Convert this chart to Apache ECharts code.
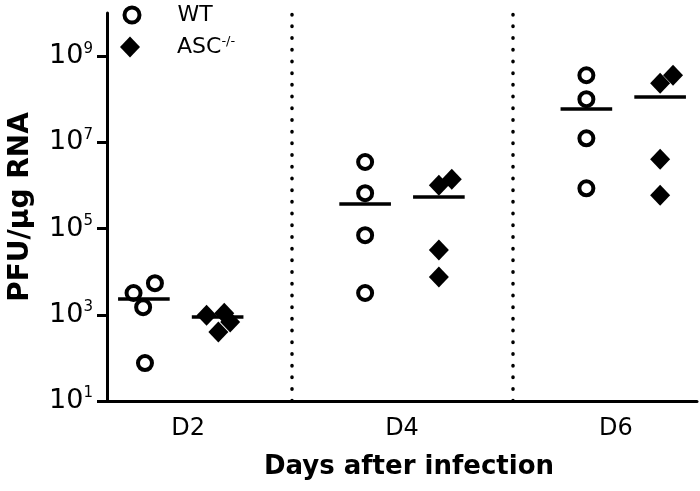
<!DOCTYPE html>
<html><head><meta charset="utf-8">
<script src="https://cdn.jsdelivr.net/npm/echarts@6/dist/echarts.min.js"></script>
<style>html,body{margin:0;padding:0;background:#fff}#c{width:700px;height:491px}</style>
</head><body><div id="c"></div>
<script>
// ---- data ----
const days = ['D2', 'D4', 'D6'];
const wtName = 'WT';
const ascName = 'ASC';
const wtValues = [[3200, 5400, 1500, 76], [3.5e6, 6.6e5, 7.0e4, 3.2e3], [3.6e8, 1.0e8, 1.24e7, 8.6e5]];
const wtDodge = [[-0.28, 0.3, -0.02, 0.03], [0, 0, 0, 0], [0, 0, 0, 0]];
const ascValues = [[980, 1090, 680, 400], [1.01e6, 1.4e6, 3.2e4, 7.5e3], [2.34e8, 3.6e8, 4.06e6, 5.9e5]];
const ascDodge = [[-0.3, 0.18, 0.34, 0.02], [0, 0.35, 0, 0], [0, 0.35, 0, 0]];
const wtMedian = [2300, 3.7e5, 5.9e7];
const ascMedian = [880, 5.4e5, 1.17e8];
const yTicks = [10, 1e3, 1e5, 1e7, 1e9];

// ---- layout (axis units) ----
const SLOT = 6, WT_POS = 1, ASC_POS = 3, HALF = 0.7;
const labelPos = [2.2, 8, 13.8];
const separators = [5, 11];
const FONT = 'DejaVu Sans';

function pts(vals, dodge, pos) {
  const out = [];
  vals.forEach((arr, d) => arr.forEach((v, i) => out.push([d * SLOT + pos + dodge[d][i], v])));
  return out;
}
function medLines(meds, pos) {
  return meds.map((m, d) => [{ coord: [d * SLOT + pos - HALF, m] }, { coord: [d * SLOT + pos + HALF, m] }]);
}
const medStyle = { symbol: ['none', 'none'], silent: true, label: { show: false }, lineStyle: { color: '#000', width: 3.5, type: 'solid' }, emphasis: { disabled: true } };
const legendText = (pad) => ({
  fontFamily: FONT, fontSize: 22, color: '#000', lineHeight: 24, padding: [0, 0, 0, pad],
  rich: { s: { fontFamily: FONT, fontSize: 13, color: '#000', verticalAlign: 'top', lineHeight: 12 } }
});

const chart = echarts.init(document.getElementById('c'), null, { renderer: 'canvas' });
chart.setOption({
  animation: false,
  backgroundColor: '#fff',
  grid: { left: 107, right: 3, top: 13, bottom: 90, outerBoundsMode: 'none' },
  legend: [
    {
      orient: 'vertical', left: 122.5, top: 3, padding: 0,
      itemWidth: 15, itemHeight: 15,
      data: [{ name: wtName, icon: 'circle', itemStyle: { color: '#fff', borderColor: '#000', borderWidth: 4 } }],
      textStyle: legendText(33)
    },
    {
      orient: 'vertical', left: 120, top: 35, padding: 0,
      itemWidth: 20, itemHeight: 21,
      data: [{ name: ascName, icon: 'diamond', itemStyle: { color: '#000', borderWidth: 0 } }],
      formatter: n => n + '{s|-/-}',
      textStyle: legendText(32)
    }
  ],
  xAxis: {
    type: 'value', min: 0, max: SLOT * days.length - 2,
    axisLine: { lineStyle: { color: '#000', width: 3 } },
    axisTick: { show: false },
    splitLine: { show: false },
    axisLabel: {
      customValues: labelPos, margin: 16,
      formatter: v => days[labelPos.indexOf(v)] || '',
      fontFamily: FONT, fontSize: 24, color: '#000'
    },
    name: 'Days after infection', nameLocation: 'middle', nameGap: 53,
    nameTextStyle: { fontFamily: FONT, fontWeight: 'bold', fontSize: 26, color: '#000', padding: [0, 0, 0, 14] }
  },
  yAxis: {
    type: 'log', logBase: 10, min: 10, max: 1e10,
    axisLine: { lineStyle: { color: '#000', width: 3 } },
    axisTick: { show: true, length: 10, customValues: yTicks, lineStyle: { color: '#000', width: 3 } },
    splitLine: { show: false },
    axisLabel: {
      customValues: yTicks, margin: 14,
      formatter: v => '{b|10}{s|' + Math.round(Math.log10(v)) + '}',
      rich: {
        b: { fontFamily: FONT, fontSize: 27, color: '#000', lineHeight: 30 },
        s: { fontFamily: FONT, fontSize: 15, color: '#000', verticalAlign: 'top', lineHeight: 20 }
      }
    },
    name: 'PFU/μg RNA', nameLocation: 'middle', nameGap: 72, nameRotate: 90,
    nameTextStyle: { fontFamily: FONT, fontWeight: 'bold', fontSize: 28, color: '#000' }
  },
  series: [
    {
      name: wtName, type: 'scatter', symbol: 'circle', symbolSize: 14, z: 3,
      itemStyle: { color: '#fff', borderColor: '#000', borderWidth: 4, opacity: 1 },
      data: pts(wtValues, wtDodge, WT_POS),
      markLine: Object.assign({ data: medLines(wtMedian, WT_POS) }, medStyle)
    },
    {
      name: ascName, type: 'scatter', symbol: 'diamond', symbolSize: [20, 21], z: 3,
      itemStyle: { color: '#000', opacity: 1 },
      data: pts(ascValues, ascDodge, ASC_POS),
      markLine: Object.assign({ data: medLines(ascMedian, ASC_POS) }, medStyle)
    },
    {
      type: 'scatter', data: [], silent: true,
      markLine: {
        symbol: ['none', 'none'], silent: true, label: { show: false },
        lineStyle: { color: '#000', width: 3.5, type: [0.5, 11.2], cap: 'round' },
        data: separators.map(x => ({ xAxis: x }))
      }
    }
  ]
});
</script></body></html>
